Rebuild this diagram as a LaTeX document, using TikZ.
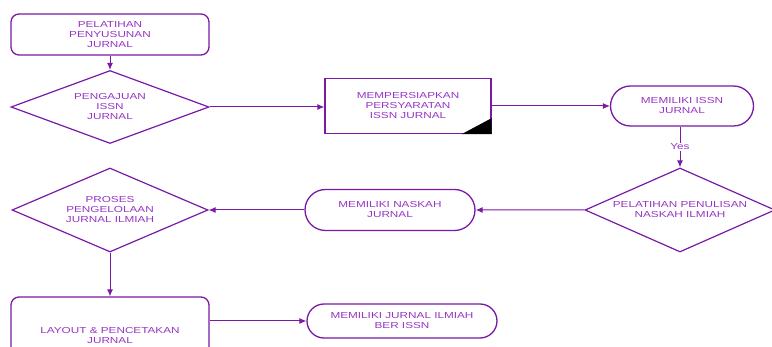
\documentclass[tikz,border=0pt]{standalone}
\usepackage{fontspec}
\setmainfont{Liberation Sans}[FakeStretch=1.35]
\usetikzlibrary{shapes.geometric,shapes.misc,arrows.meta}
\definecolor{ungu}{RGB}{122,25,165}
\definecolor{teksungu}{RGB}{150,55,195}
\begin{document}
\begin{tikzpicture}[x=1pt,y=-1pt,>={Latex[length=7pt,width=6pt]},
	every node/.style={font=\fontsize{8.7}{10}\selectfont,text=teksungu,align=center},
	kotak/.style={draw=ungu,line width=1.3pt,minimum width=198pt,minimum height=41pt,rounded corners=8pt},
	belah/.style={draw=ungu,line width=1.2pt,shape=diamond,inner sep=0pt},
	lonjong/.style={draw=ungu,line width=1.3pt,shape=rounded rectangle,inner sep=0pt},
	garis/.style={draw=ungu,line width=1pt}]
	\clip (0,0) rectangle (772,347);
	\node[kotak] (latih) at (110,34.5) {PELATIHAN\\PENYUSUNAN\\JURNAL};
	\node[belah,minimum width=198pt,minimum height=73pt,shape aspect=2.68] (aju) at (110,107) {PENGAJUAN\\ISSN\\JURNAL};
	\node[draw=ungu,line width=1.3pt,minimum width=166pt,minimum height=55pt] (syarat) at (408,106) {MEMPERSIAPKAN\\PERSYARATAN\\ISSN JURNAL};
	\fill[black] (syarat.south east) -- ([xshift=-30pt]syarat.south east) -- ([yshift=16pt]syarat.south east) -- cycle;
	\node[lonjong,minimum width=143pt,minimum height=40pt] (issn) at (682,106) {MEMILIKI ISSN\\JURNAL};
	\node[belah,minimum width=190pt,minimum height=84pt,shape aspect=2.26] (tulis) at (680,210) {PELATIHAN PENULISAN\\NASKAH ILMIAH};
	\node[lonjong,minimum width=170pt,minimum height=41pt] (naskah) at (390,210) {MEMILIKI NASKAH\\JURNAL};
	\node[belah,minimum width=196pt,minimum height=84pt,shape aspect=2.33] (kelola) at (110,210) {PROSES\\PENGELOLAAN\\JURNAL ILMIAH};
	\node[kotak,minimum height=78pt] (cetak) at (110,336) {LAYOUT \& PENCETAKAN\\JURNAL};
	\node[lonjong,minimum width=190pt,minimum height=34pt] (hasil) at (402,321) {MEMILIKI JURNAL ILMIAH\\BER ISSN};
	\draw[garis,->] (latih) -- (aju);
	\draw[garis,->] (aju.east) -- (syarat.west |- aju.east);
	\draw[garis,->] (syarat) -- (issn);
	\draw[garis,->] (issn.south -| tulis.north) -- node[fill=white,inner sep=1pt]{Yes} (tulis.north);
	\draw[garis,->] (tulis) -- (naskah);
	\draw[garis,->] (naskah) -- (kelola);
	\draw[garis,->] (kelola) -- (cetak);
	\draw[garis,->] (cetak.east |- hasil.west) -- (hasil.west);
\end{tikzpicture}
\end{document}
